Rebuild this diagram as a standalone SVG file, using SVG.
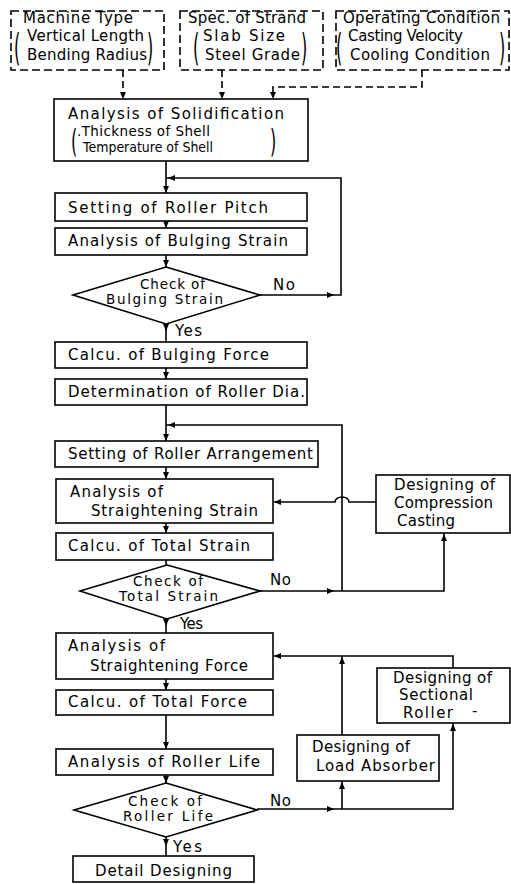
<svg xmlns="http://www.w3.org/2000/svg" xmlns:xlink="http://www.w3.org/1999/xlink" width="511" height="884" viewBox="0 0 511 884">
<style>
.box{fill:#fff;stroke:#000;stroke-width:1.6}
.dbox{fill:#fff;stroke:#000;stroke-width:1.6;stroke-dasharray:8 4}
.t{font-family:"DejaVu Sans","Liberation Sans",sans-serif;font-size:15px;fill:#000}
.s{font-family:"DejaVu Sans","Liberation Sans",sans-serif;font-size:13.5px;fill:#000}
.p{font-family:"DejaVu Sans","Liberation Sans",sans-serif;font-size:16px;fill:#000}
.ln{fill:none;stroke:#000;stroke-width:1.6}
.dl{fill:none;stroke:#000;stroke-width:1.6;stroke-dasharray:7 4}
</style>
<defs>
<path id="ah" d="M0,0 L-7,-3 L-7,3 Z" fill="#000"/>
</defs>
<rect width="511" height="884" fill="#fff"/>

<g id="connectors">
  <path class="dl" d="M123,70 V96"/>
  <path class="dl" d="M222,70 V96"/>
  <path class="dl" d="M422,70 V87 H273 V96"/>
  <use xlink:href="#ah" transform="translate(123,99) rotate(90)"/>
  <use xlink:href="#ah" transform="translate(222,99) rotate(90)"/>
  <use xlink:href="#ah" transform="translate(273,99) rotate(90)"/>

  <path class="ln" d="M166,161 V193"/>
  <use xlink:href="#ah" transform="translate(166,193) rotate(90)"/>
  <path class="ln" d="M260,295 H341 V178 H166"/>
  <use xlink:href="#ah" transform="translate(334,295)"/>
  <use xlink:href="#ah" transform="translate(168,178) rotate(180)"/>
  <path class="ln" d="M166,221 V228"/>
  <use xlink:href="#ah" transform="translate(166,228) rotate(90)"/>
  <path class="ln" d="M166,255 V267"/>
  <use xlink:href="#ah" transform="translate(166,267) rotate(90)"/>
  <path class="ln" d="M166,324 V342"/>
  <use xlink:href="#ah" transform="translate(166,331) rotate(90)"/>
  <path class="ln" d="M166,368 V379"/>
  <use xlink:href="#ah" transform="translate(166,379) rotate(90)"/>
  <path class="ln" d="M166,405 V441"/>
  <use xlink:href="#ah" transform="translate(166,441) rotate(90)"/>
  <path class="ln" d="M342,591 V425 H166"/>
  <use xlink:href="#ah" transform="translate(168,425) rotate(180)"/>
  <path class="ln" d="M166,467 V479"/>
  <use xlink:href="#ah" transform="translate(166,479) rotate(90)"/>
  <path class="ln" d="M376,502 H349 A7,5 0 0 0 335,502 H274"/>
  <use xlink:href="#ah" transform="translate(274,502) rotate(180)"/>
  <path class="ln" d="M166,523 V533"/>
  <use xlink:href="#ah" transform="translate(166,533) rotate(90)"/>
  <path class="ln" d="M166,560 V565"/>
  <path class="ln" d="M260,591 H444 V533"/>
  <use xlink:href="#ah" transform="translate(334,591)"/>
  <use xlink:href="#ah" transform="translate(444,534) rotate(-90)"/>
  <path class="ln" d="M166,619 V633"/>
  <use xlink:href="#ah" transform="translate(166,626) rotate(90)"/>
  <path class="ln" d="M166,679 V690"/>
  <use xlink:href="#ah" transform="translate(166,690) rotate(90)"/>
  <path class="ln" d="M166,715 V749"/>
  <use xlink:href="#ah" transform="translate(166,749) rotate(90)"/>
  <path class="ln" d="M166,775 V783"/>
  <use xlink:href="#ah" transform="translate(166,783) rotate(90)"/>
  <path class="ln" d="M166,837 V856"/>
  <use xlink:href="#ah" transform="translate(166,846) rotate(90)"/>
  <path class="ln" d="M257,809 H453 V723"/>
  <use xlink:href="#ah" transform="translate(334,809)"/>
  <use xlink:href="#ah" transform="translate(453,724) rotate(-90)"/>
  <path class="ln" d="M342,809 V781"/>
  <use xlink:href="#ah" transform="translate(342,782) rotate(-90)"/>
  <path class="ln" d="M342,735 V656"/>
  <use xlink:href="#ah" transform="translate(342,657) rotate(-90)"/>
  <path class="ln" d="M453,668 V656 H274"/>
  <use xlink:href="#ah" transform="translate(274,656) rotate(180)"/>
</g>

<g id="labels">
  <text class="t" x="273" y="290" textLength="22">No</text>
  <text class="t" x="175" y="336" textLength="27">Yes</text>
  <text class="t" x="270" y="585" textLength="21">No</text>
  <text class="t" x="180" y="629" textLength="23">Yes</text>
  <text class="t" x="270" y="806" textLength="21">No</text>
  <text class="t" x="173" y="852" textLength="29">Yes</text>
</g>

<g id="n-machine">
  <rect class="dbox" x="11" y="11" width="153" height="59"/>
  <text class="t" x="23" y="23" textLength="110">Machine Type</text>
  <text class="t" x="27" y="41" textLength="117">Vertical Length</text>
  <text class="t" x="27" y="60" textLength="120">Bending Radius</text>
  <text class="p" transform="translate(14,61) scale(1,2.3)">(</text>
  <text class="p" transform="translate(147,61) scale(1,2.3)">)</text>
</g>
<g id="n-spec">
  <rect class="dbox" x="180" y="11" width="143" height="59"/>
  <text class="t" x="188" y="23" textLength="118">Spec. of Strand</text>
  <text class="t" x="203" y="41" textLength="82">Slab Size</text>
  <text class="t" x="205" y="60" textLength="95">Steel Grade</text>
  <text class="p" transform="translate(193,61) scale(1,2.3)">(</text>
  <text class="p" transform="translate(301,61) scale(1,2.3)">)</text>
</g>
<g id="n-operating">
  <rect class="dbox" x="336" y="11" width="173" height="59"/>
  <text class="t" x="343" y="23" textLength="157">Operating Condition</text>
  <text class="t" x="348" y="41" textLength="115">Casting Velocity</text>
  <text class="t" x="350" y="60" textLength="140">Cooling Condition</text>
  <text class="p" transform="translate(336,61) scale(1,2.3)">(</text>
  <text class="p" transform="translate(499,61) scale(1,2.3)">)</text>
</g>
<g id="n-solid">
  <rect class="box" x="54" y="99" width="254" height="62"/>
  <text class="t" x="68" y="119" textLength="216">Analysis of Solidification</text>
  <text class="s" x="77" y="136" textLength="133">.Thickness of Shell</text>
  <text class="s" x="83" y="152" textLength="130" lengthAdjust="spacingAndGlyphs">Temperature of Shell</text>
  <text class="p" transform="translate(71,152) scale(1,2.0)">(</text>
  <text class="p" transform="translate(270,152) scale(1,2.0)">)</text>
</g>
<g id="n-pitch">
  <rect class="box" x="55" y="193" width="252" height="28"/>
  <text class="t" x="68" y="213" textLength="200">Setting of Roller Pitch</text>
</g>
<g id="n-bulgstrain">
  <rect class="box" x="55" y="228" width="252" height="27"/>
  <text class="t" x="68" y="246" textLength="220">Analysis of Bulging Strain</text>
</g>
<g id="n-checkbulg">
  <polygon class="box" points="166,267 260,295 166,324 73,295"/>
  <text class="s" x="140" y="289" textLength="65">Check of</text>
  <text class="s" x="106" y="304" textLength="117">Bulging Strain</text>
</g>
<g id="n-bulgforce">
  <rect class="box" x="55" y="342" width="252" height="26"/>
  <text class="t" x="68" y="360" textLength="201">Calcu. of Bulging Force</text>
</g>
<g id="n-rollerdia">
  <rect class="box" x="55" y="379" width="252" height="26"/>
  <text class="t" x="68" y="397" textLength="237">Determination of Roller Dia.</text>
</g>
<g id="n-arrangement">
  <rect class="box" x="55" y="441" width="263" height="26"/>
  <text class="t" x="68" y="459" textLength="245">Setting of Roller Arrangement</text>
</g>
<g id="n-straightstrain">
  <rect class="box" x="56" y="479" width="217" height="44"/>
  <text class="t" x="70" y="497" textLength="93">Analysis of</text>
  <text class="t" x="91" y="516" textLength="167">Straightening Strain</text>
</g>
<g id="n-totalstrain">
  <rect class="box" x="56" y="533" width="217" height="27"/>
  <text class="t" x="68" y="551" textLength="182">Calcu. of Total Strain</text>
</g>
<g id="n-checktotal">
  <polygon class="box" points="167,565 260,591 167,619 80,591"/>
  <text class="s" x="133" y="586" textLength="70">Check of</text>
  <text class="s" x="119" y="601" textLength="99">Total Strain</text>
</g>
<g id="n-compression">
  <rect class="box" x="376" y="475" width="134" height="58"/>
  <text class="t" x="394" y="490" textLength="101">Designing of</text>
  <text class="t" x="394" y="508" textLength="99">Compression</text>
  <text class="t" x="397" y="526" textLength="58">Casting</text>
</g>
<g id="n-straightforce">
  <rect class="box" x="56" y="633" width="217" height="46"/>
  <text class="t" x="68" y="651" textLength="97">Analysis of</text>
  <text class="t" x="90" y="671" textLength="158">Straightening Force</text>
</g>
<g id="n-totalforce">
  <rect class="box" x="56" y="690" width="217" height="25"/>
  <text class="t" x="68" y="707" textLength="179">Calcu. of Total Force</text>
</g>
<g id="n-sectional">
  <rect class="box" x="377" y="668" width="133" height="55"/>
  <text class="t" x="393" y="683" textLength="99">Designing of</text>
  <text class="t" x="399" y="700" textLength="74">Sectional</text>
  <text class="t" x="403" y="718" textLength="50">Roller</text>
  <text class="t" x="472" y="716">-</text>
</g>
<g id="n-loadabs">
  <rect class="box" x="297" y="735" width="142" height="46"/>
  <text class="t" x="312" y="752" textLength="98">Designing of</text>
  <text class="t" x="316" y="771" textLength="119">Load Absorber</text>
</g>
<g id="n-rollerlife">
  <rect class="box" x="56" y="749" width="217" height="26"/>
  <text class="t" x="68" y="767" textLength="192">Analysis of Roller Life</text>
</g>
<g id="n-checklife">
  <polygon class="box" points="166,783 257,810 166,837 74,810"/>
  <text class="s" x="128" y="806" textLength="74">Check of</text>
  <text class="s" x="123" y="821" textLength="90">Roller Life</text>
</g>
<g id="n-detail">
  <rect class="box" x="73" y="856" width="181" height="26"/>
  <text class="t" x="95" y="876" textLength="137">Detail Designing</text>
</g>
</svg>
